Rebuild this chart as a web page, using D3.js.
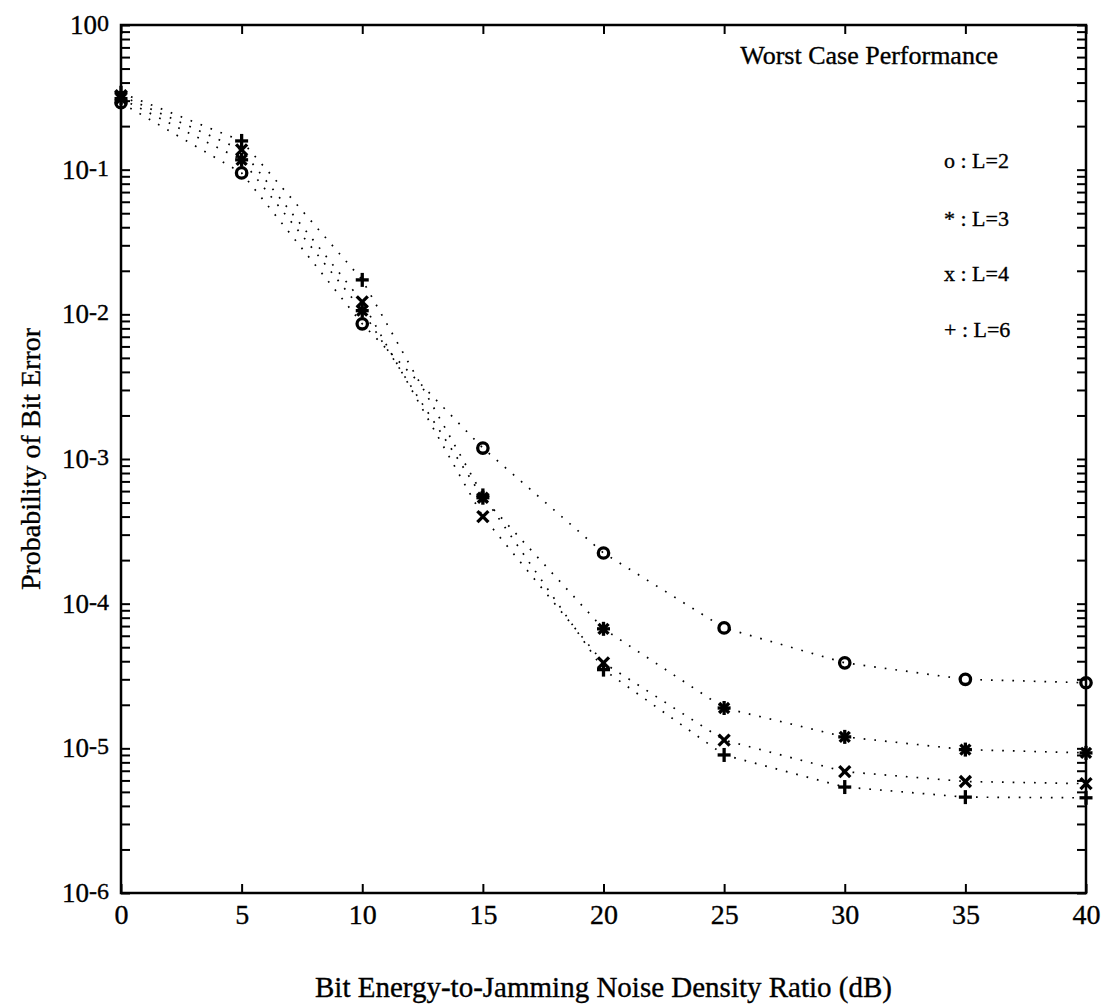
<!DOCTYPE html>
<html>
<head>
<meta charset="utf-8">
<script src="https://cdn.jsdelivr.net/npm/d3@7"></script>
<style>
  html, body { margin: 0; padding: 0; background: #fff; }
  svg text { font-family: "Liberation Serif", "Times New Roman", serif; fill: #000; stroke: #000; stroke-width: 0.35; }
</style>
</head>
<body>
<svg id="chart" width="1106" height="1006"></svg>
<script>
// ---------- data ----------
const snrDb = [0, 5, 10, 15, 20, 25, 30, 35, 40];
const pbL2 = [0.29, 0.095, 0.0086, 1.19e-3, 2.24e-4, 6.8e-5, 3.9e-5, 3.0e-5, 2.84e-5];
const pbL3 = [0.31, 0.117, 0.0106, 5.4e-4, 6.7e-5, 1.9e-5, 1.2e-5, 9.8e-6, 9.3e-6];
const pbL4 = [0.325, 0.137, 0.0122, 4.0e-4, 3.9e-5, 1.14e-5, 6.9e-6, 5.9e-6, 5.7e-6];
const pbL6 = [0.34, 0.158, 0.0173, 5.6e-4, 3.5e-5, 9.0e-6, 5.4e-6, 4.6e-6, 4.55e-6];
const xTickLabels = ["0", "5", "10", "15", "20", "25", "30", "35", "40"];
const yDecadeExponents = [0, -1, -2, -3, -4, -5, -6];
const legendTitle = "Worst Case Performance";
const legendLabels = ["o : L=2", "* : L=3", "x : L=4", "+ : L=6"];
const xTitle = "Bit Energy-to-Jamming Noise Density Ratio (dB)";
const yTitle = "Probability of Bit Error";

// ---------- layout ----------
const L = 121, R = 1086, T = 25, B = 893;
const svg = d3.select("#chart");
const x = d3.scaleLinear().domain([0, 40]).range([L, R]);
const y = d3.scaleLog().domain([1e-6, 1]).range([B, T]);

// tick values for log axis
const yTicks = [];
yDecadeExponents.forEach(e => {
  yTicks.push(Math.pow(10, e));
  if (e > -6) for (let k = 2; k <= 9; k++) yTicks.push(k * Math.pow(10, e - 1));
});

function styleAxis(g) {
  g.select(".domain").remove();
  g.selectAll(".tick line").attr("stroke", "#000").attr("stroke-width", 2);
}

// left / right axes (ticks inward)
svg.append("g").attr("transform", `translate(${L},0)`)
  .call(d3.axisLeft(y).tickValues(yTicks).tickSize(-9).tickFormat(() => ""))
  .call(styleAxis);
svg.append("g").attr("transform", `translate(${R},0)`)
  .call(d3.axisRight(y).tickValues(yTicks).tickSize(-9).tickFormat(() => ""))
  .call(styleAxis);

// bottom / top axes
const bottom = svg.append("g").attr("transform", `translate(0,${B})`)
  .call(d3.axisBottom(x).tickValues(snrDb).tickSize(-9).tickPadding(0)
        .tickFormat((d, i) => xTickLabels[i]))
  .call(styleAxis);
bottom.selectAll(".tick text").attr("font-size", 28).attr("dy", null).attr("y", 31)
  .attr("font-family", "Liberation Serif").attr("fill", "#000");
svg.append("g").attr("transform", `translate(0,${T})`)
  .call(d3.axisTop(x).tickValues(snrDb).tickSize(-9).tickFormat(() => ""))
  .call(styleAxis);

// y decade labels
const yl = svg.append("g");
yDecadeExponents.forEach(e => {
  const t = yl.append("text")
    .attr("x", 109).attr("y", y(Math.pow(10, e)) + 9)
    .attr("text-anchor", "end").attr("font-size", 27);
  t.append("tspan").text("10");
  t.append("tspan").attr("font-size", 24).attr("dy", -3).text(String(e));
});

// frame
svg.append("rect").attr("x", L).attr("y", T).attr("width", R - L).attr("height", B - T)
  .attr("fill", "none").attr("stroke", "#000").attr("stroke-width", 2.5);

// ---------- series ----------
const series = [
  { vals: pbL2, marker: "o" },
  { vals: pbL3, marker: "*" },
  { vals: pbL4, marker: "x" },
  { vals: pbL6, marker: "+" }
];
const line = d3.line().x(d => x(d[0])).y(d => y(d[1]));
const plot = svg.append("g");
series.forEach(s => {
  const pts = snrDb.map((v, i) => [v, s.vals[i]]);
  plot.append("path").datum(pts).attr("d", line)
    .attr("fill", "none").attr("stroke", "#000").attr("stroke-width", 1.7)
    .attr("stroke-dasharray", "1.7 9");
});

function drawMarker(g, type, cx, cy) {
  const sw = 3.3;
  if (type === "o") {
    g.append("circle").attr("cx", cx).attr("cy", cy).attr("r", 5.2)
      .attr("fill", "none").attr("stroke", "#000").attr("stroke-width", sw);
  } else {
    let segs = [];
    if (type === "+" || type === "*") segs.push([0, -7, 0, 7], [-6.5, 0, 6.5, 0]);
    if (type === "x") segs.push([-5.5, -5.5, 5.5, 5.5], [-5.5, 5.5, 5.5, -5.5]);
    if (type === "*") segs.push([-5, -5, 5, 5], [-5, 5, 5, -5]);
    segs.forEach(q => g.append("line")
      .attr("x1", cx + q[0]).attr("y1", cy + q[1]).attr("x2", cx + q[2]).attr("y2", cy + q[3])
      .attr("stroke", "#000").attr("stroke-width", sw));
  }
}
const markers = svg.append("g");
[3, 2, 1, 0].forEach(si => {
  const s = series[si];
  snrDb.forEach((v, i) => drawMarker(markers, s.marker, x(v), y(s.vals[i])));
});

// ---------- legend ----------
svg.append("text").attr("x", 998).attr("y", 64).attr("text-anchor", "end")
  .attr("font-size", 26).text(legendTitle);
const legY = [168, 226, 281, 337];
legendLabels.forEach((t, i) => {
  svg.append("text").attr("x", 944).attr("y", legY[i]).attr("font-size", 22).text(t);
});

// ---------- axis titles ----------
svg.append("text").attr("x", (L + R) / 2).attr("y", 997).attr("text-anchor", "middle")
  .attr("font-size", 29).text(xTitle);
svg.append("text").attr("transform", `translate(40,${(T + B) / 2}) rotate(-90)`)
  .attr("text-anchor", "middle").attr("font-size", 28).text(yTitle);
</script>
</body>
</html>
